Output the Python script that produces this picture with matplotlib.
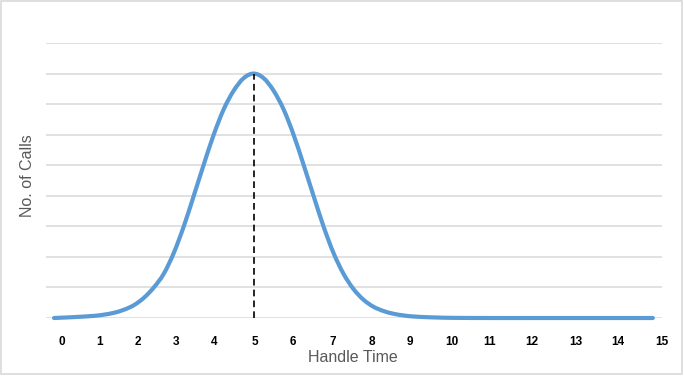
import matplotlib
matplotlib.use("Agg")
import matplotlib.pyplot as plt
from matplotlib.patches import Rectangle, PathPatch
from matplotlib.path import Path
import matplotlib.transforms as mtransforms

# handle time vs number of calls
handle_time = [0, 0.5, 1.0, 1.25, 1.5, 1.75, 2.0, 2.25, 2.5, 2.75, 3.0, 3.25, 3.5, 3.75,
               4.0, 4.25, 4.5, 4.75, 5.0, 5.25, 5.5, 5.75, 6.0, 6.25, 6.5, 6.75,
               7.0, 7.25, 7.5, 7.75, 8.0, 8.25, 8.5, 8.75, 9.0, 9.5, 10, 11, 12, 13, 14, 15]
calls = [0.0, 0.03, 0.07, 0.11, 0.17, 0.27, 0.42, 0.66, 1.0, 1.45, 2.13, 3.0, 4.0, 5.02,
         6.0, 6.83, 7.44, 7.85, 8.0, 7.85, 7.44, 6.83, 6.0, 5.02, 4.0, 3.0,
         2.13, 1.45, 0.95, 0.6, 0.37, 0.23, 0.14, 0.085, 0.05, 0.02, 0.005, 0, 0, 0, 0, 0]

peak_time = 5
peak_calls = 8

tick_labels = [str(i) for i in range(16)]
# the labels in the original sit a little off the category positions
tick_pos = [0.19, 1.15, 2.10, 3.06, 4.01, 5.03, 5.98, 6.99, 7.96, 8.91,
            9.96, 10.92, 11.96, 13.07, 14.12, 15.23]


def smooth_path(xs, ys):
    # Excel-like smoothed line: cubic bezier segments through every point
    verts = [(xs[0], ys[0])]
    codes = [Path.MOVETO]
    n = len(xs)
    for i in range(n - 1):
        x0, y0 = (xs[i - 1], ys[i - 1]) if i > 0 else (xs[i], ys[i])
        x1, y1 = xs[i], ys[i]
        x2, y2 = xs[i + 1], ys[i + 1]
        x3, y3 = (xs[i + 2], ys[i + 2]) if i + 2 < n else (x2, y2)
        h = x2 - x1
        m1 = (y2 - y0) / (x2 - x0) if x2 != x0 else 0
        m2 = (y3 - y1) / (x3 - x1) if x3 != x1 else 0
        verts += [(x1 + h / 3, y1 + m1 * h / 3), (x2 - h / 3, y2 - m2 * h / 3), (x2, y2)]
        codes += [Path.CURVE4] * 3
    return Path(verts, codes)


plt.rcParams['font.family'] = ['Liberation Sans', 'DejaVu Sans']

fig = plt.figure(figsize=(6.84, 3.78), dpi=100)
ax = fig.add_axes([0.0673, 0.1587, 0.9006, 0.7275])

# chart border
fig.patches.append(Rectangle((0.5 / 684, 4 / 378), 681 / 684, 373 / 378,
                             transform=fig.transFigure, fill=False,
                             edgecolor='#d9d9d9', linewidth=1.2))

ax.set_xlim(-0.2, 15.23)
ax.set_ylim(0, 9)
ax.set_yticks(range(0, 10))
ax.yaxis.grid(True, color='#d9d9d9', linewidth=1.1)
ax.set_axisbelow(True)
for s in ax.spines.values():
    s.set_visible(False)
ax.tick_params(left=False, bottom=False, labelleft=False, labelbottom=False)

curve = PathPatch(smooth_path(handle_time, calls), fill=False, edgecolor='#5B9BD5',
                  linewidth=3.0, capstyle='round', joinstyle='round',
                  clip_on=False, zorder=3)
ax.add_patch(curve)
ax.plot([peak_time, peak_time], [0, peak_calls], color='black', linewidth=1.2,
        linestyle=(0, (4, 2.5)), zorder=4, clip_on=False)

trans = mtransforms.blended_transform_factory(ax.transData, fig.transFigure)
for p, lab in zip(tick_pos, tick_labels):
    ax.text(p, 1 - 342 / 378, lab, transform=trans, ha='center', va='center',
            fontsize=8.5, fontweight='bold', color='black')

fig.text(353 / 684, 1 - 358 / 378, 'Handle Time', ha='center', va='center',
         fontsize=11.5, color='#595959')
fig.text(28 / 684, 1 - 176 / 378, 'No. of Calls', ha='center', va='center',
         rotation=90, fontsize=11.5, color='#595959')

fig.savefig('out.png', dpi=100)
